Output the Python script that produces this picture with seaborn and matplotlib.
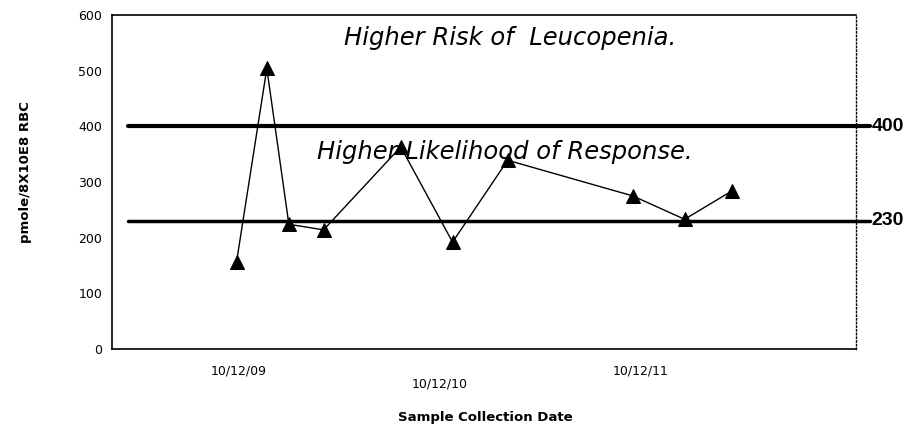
import pandas as pd
import numpy as np
import matplotlib
matplotlib.use('Agg')
import matplotlib.pyplot as plt
import seaborn as sns

# data
dates = ['2009-10-08', '2009-12-02', '2010-01-11', '2010-03-15', '2010-08-02',
         '2010-11-04', '2011-02-12', '2011-09-27', '2011-12-30', '2012-03-25']
values = [156, 504, 224, 214, 363, 192, 339, 275, 233, 284]
thresholds = [400, 230]
tick_dates = ['2009-10-12', '2010-10-12', '2011-10-12']
tick_labels = ['10/12/09', '10/12/10', '10/12/11']

df = pd.DataFrame({'date': pd.to_datetime(dates), 'value': values})

sns.set_style('white')
plt.rcParams['font.family'] = ['DejaVu Sans']
plt.rcParams['text.color'] = 'black'
plt.rcParams['xtick.color'] = 'black'
plt.rcParams['ytick.color'] = 'black'
plt.rcParams['axes.labelcolor'] = 'black'

fig = plt.figure(figsize=(9.2, 4.29), dpi=100)
ax = fig.add_axes([0.1217, 0.1865, 0.8087, 0.7786])

sns.lineplot(data=df, x='date', y='value', ax=ax, color='black', linewidth=1,
             marker='^', markersize=10, markeredgecolor='black')

ytrans = ax.get_yaxis_transform()
for t, lw in zip(thresholds, [3, 2.5]):
    ax.axhline(t, xmin=0.0215, xmax=1.019, color='black', linewidth=lw, clip_on=False)
    ax.text(1.021, t, str(t), transform=ytrans, va='center', ha='left',
            fontsize=14, fontweight='bold', family='Liberation Sans')

ax.text(0.535, 558, 'Higher Risk of  Leucopenia.', ha='center', va='center',
        fontsize=17.5, style='italic', transform=ytrans)
ax.text(0.528, 354, 'Higher Likelihood of Response.', ha='center', va='center',
        fontsize=17.5, style='italic', transform=ytrans)

ax.set_ylim(0, 600)
ax.set_yticks(range(0, 601, 100))
ax.set_xlim(pd.Timestamp('2009-02-24'), pd.Timestamp('2012-11-05'))
ax.set_xticks(pd.to_datetime(tick_dates))
ax.set_xticklabels(tick_labels)
ax.tick_params(axis='both', labelsize=9, length=0)
ax.tick_params(axis='y', pad=7)
ax.tick_params(axis='x', pad=11)
ax.get_xticklabels()[1].set_y(-0.04)

ax.set_xlabel('Sample Collection Date', fontsize=9.5, fontweight='bold')
ax.xaxis.set_label_coords(0.502, -0.186)
ax.set_ylabel('pmole/8X10E8 RBC', fontsize=9.5, fontweight='bold')
ax.yaxis.set_label_coords(-0.108, 0.53)

for side in ['left', 'bottom', 'top']:
    ax.spines[side].set_color('black')
    ax.spines[side].set_linewidth(1.2)
ax.spines['right'].set_color('black')
ax.spines['right'].set_linestyle(':')
ax.spines['right'].set_linewidth(1)

fig.savefig('out.png', dpi=100)
